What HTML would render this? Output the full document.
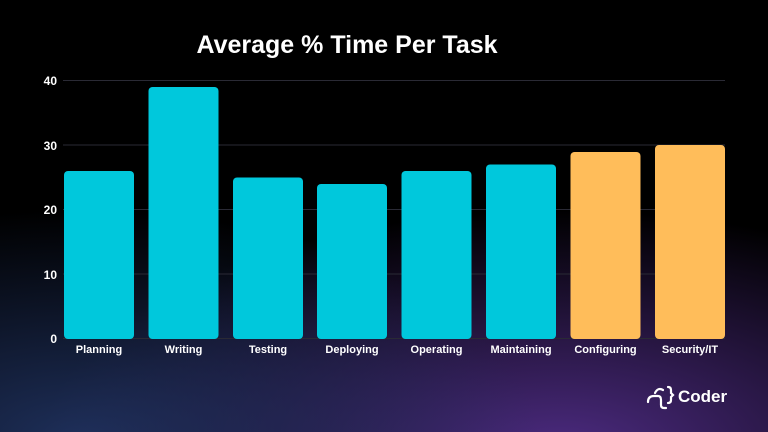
<!DOCTYPE html><html><head><style>
body{margin:0}
#c{width:768px;height:432px;position:relative;overflow:hidden;background:#000;font-family:"Liberation Sans",sans-serif}
</style></head><body><div id="c">
<div style="position:absolute;inset:0;background:radial-gradient(ellipse 460px 230px at 80px 440px,rgba(35,55,105,0.85),transparent),radial-gradient(ellipse 520px 240px at 560px 450px,rgba(80,45,135,0.95),transparent)"></div>
<svg width="768" height="432" style="position:absolute;left:0;top:0" font-family="Liberation Sans, sans-serif" font-weight="bold">
<text x="347" y="53" fill="#fff" font-size="25" text-anchor="middle">Average % Time Per Task</text>
<g stroke="#2a2a35" stroke-width="1">
<line x1="63" x2="725" y1="80.5" y2="80.5"/><line x1="63" x2="725" y1="145" y2="145"/><line x1="63" x2="725" y1="209.5" y2="209.5"/><line x1="63" x2="725" y1="274" y2="274"/><line x1="63" x2="725" y1="338.5" y2="338.5"/>
</g>
<g fill="#fff" font-size="12" text-anchor="end">
<text x="57" y="85">40</text><text x="57" y="150">30</text><text x="57" y="214">20</text><text x="57" y="279">10</text><text x="57" y="343">0</text>
</g>
<g fill="#00c8dc">
<rect x="64" y="171" width="70" height="168" rx="4"/>
<rect x="148.5" y="87" width="70" height="252" rx="4"/>
<rect x="233" y="177.5" width="70" height="161.5" rx="4"/>
<rect x="317" y="184" width="70" height="155" rx="4"/>
<rect x="401.5" y="171" width="70" height="168" rx="4"/>
<rect x="486" y="164.5" width="70" height="174.5" rx="4"/>
</g>
<g fill="#ffbd5a">
<rect x="570.5" y="152" width="70" height="187" rx="4"/>
<rect x="655" y="145" width="70" height="194" rx="4"/>
</g>
<g fill="#fff" font-size="11" text-anchor="middle">
<text x="99" y="353">Planning</text><text x="183.5" y="353">Writing</text><text x="268" y="353">Testing</text><text x="352" y="353">Deploying</text><text x="436.5" y="353">Operating</text><text x="521" y="353">Maintaining</text><text x="605.5" y="353">Configuring</text><text x="690" y="353">Security/IT</text>
</g>
<g fill="none" stroke="#fff" stroke-width="2.2" stroke-linecap="round">
<path d="M648 402 q0-6 6-6 l4 0 q3 0 3 4 l0 5 q0 3 3 3 l2 0"/>
<path d="M655 393 q3-6 8-3"/>
<path d="M668 387 q3 0 3 3 l0 3 l2 2 l-2 2 l0 3 q0 3 -3 3"/>
</g>
<text x="678" y="402" fill="#fff" font-size="17">Coder</text>
</svg>
</div></body></html>
